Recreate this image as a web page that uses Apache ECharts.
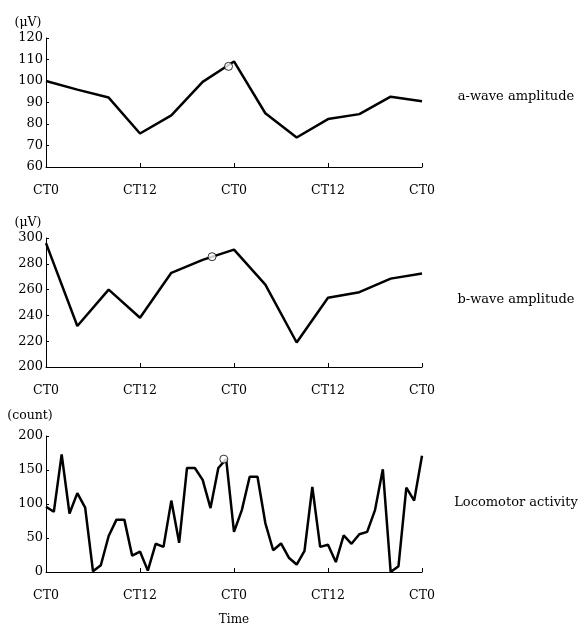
<!DOCTYPE html>
<html>
<head>
<meta charset="utf-8">
<script src="https://cdn.jsdelivr.net/npm/echarts@6/dist/echarts.min.js"></script>
<style>
html,body{margin:0;padding:0;background:#fff;}
#chart{width:580px;height:627px;}
</style>
</head>
<body>
<div id="chart"></div>
<script>
// ---- data ----
var hours4 = [0, 4, 8, 12, 16, 20, 24, 28, 32, 36, 40, 44, 48];
var aWave = [100, 96, 92.3, 75.6, 84, 99.6, 109.1, 85, 73.7, 82.3, 84.6, 92.7, 90.6];
var bWave = [296, 231.8, 260, 238.2, 273, 283, 291, 263.8, 219, 253.7, 258, 268.5, 272.5];
var hours1 = [0,1,2,3,4,5,6,7,8,9,10,11,12,13,14,15,16,17,18,19,20,21,22,23,24,25,26,27,28,29,30,31,32,33,34,35,36,37,38,39,40,41,42,43,44,45,46,47,48];
var loco = [96, 88.5, 173, 86, 116, 94.6, 1, 10, 53, 77, 77, 24, 30, 2, 41.5, 37, 105, 43, 153, 153, 135.5, 94, 153, 166, 59, 91, 140, 140, 72, 32, 42, 21, 11, 31, 125, 37, 40, 14.6, 54, 41.5, 55.5, 59, 91, 151, 0, 8.5, 124, 105, 171];
var aMarker = [[23.3, 106.8]];
var bMarker = [[21.2, 285.5]];
var locoMarker = [[22.7, 166]];
var panelLabels = ['a-wave amplitude', 'b-wave amplitude', 'Locomotor activity'];
var unitLabels = ['(\u03bcV)', '(\u03bcV)', '(count)'];
var xLabelName = 'Time';

var FONT = 'DejaVu Serif';
var chart = echarts.init(document.getElementById('chart'), null, {renderer: 'canvas'});

var grids = [
  {left: 46, width: 376, top: 38, height: 129},
  {left: 46, width: 376, top: 238, height: 129},
  {left: 46, width: 376, top: 436, height: 142}
];
var yRanges = [[60, 120, 10], [200, 300, 20], [0, 200, 50]];

function xAxis(i) {
  return {
    type: 'value', gridIndex: i, min: 0, max: 48, interval: 12,
    axisLine: {show: true, onZero: false, lineStyle: {color: '#000', width: 1}},
    axisTick: {show: true, inside: true, length: 4, lineStyle: {color: '#000'}},
    splitLine: {show: false},
    axisLabel: {
      color: '#000', fontFamily: FONT, fontSize: 12.5, margin: 17,
      formatter: function (v) { return (v % 24 === 0) ? 'CT0' : 'CT12'; }
    },
    name: i === 2 ? xLabelName : '',
    nameLocation: 'middle', nameGap: 42,
    nameTextStyle: {color: '#000', fontFamily: FONT, fontSize: 12}
  };
}
function yAxis(i) {
  return {
    type: 'value', gridIndex: i, min: yRanges[i][0], max: yRanges[i][1], interval: yRanges[i][2],
    axisLine: {show: true, lineStyle: {color: '#000', width: 1}},
    axisTick: {show: true, inside: true, length: 3, lineStyle: {color: '#000'}},
    splitLine: {show: false},
    axisLabel: {color: '#000', fontFamily: FONT, fontSize: 13, margin: 3}
  };
}
function lineSeries(i, xs, ys) {
  return {
    type: 'line', xAxisIndex: i, yAxisIndex: i,
    data: xs.map(function (x, k) { return [x, ys[k]]; }),
    showSymbol: false, symbol: 'none',
    lineStyle: {color: '#000', width: 2.5}, z: 2
  };
}
function markerSeries(i, d) {
  return {
    type: 'scatter', xAxisIndex: i, yAxisIndex: i, data: d,
    symbol: 'circle', symbolSize: 8,
    itemStyle: {color: '#fff', borderColor: '#000', borderWidth: 1}, z: 5
  };
}

var unitPos = [[28, 23], [28, 223], [30, 416]];
var labelPos = [[516, 97], [516, 300], [516, 503]];
var graphics = [];
for (var g = 0; g < 3; g++) {
  graphics.push({type: 'text', x: unitPos[g][0], y: unitPos[g][1],
    style: {text: unitLabels[g], fill: '#000', font: '12.5px "' + FONT + '"', textAlign: 'center', textVerticalAlign: 'middle'}});
  graphics.push({type: 'text', x: labelPos[g][0], y: labelPos[g][1],
    style: {text: panelLabels[g], fill: '#000', font: '13px "' + FONT + '"', textAlign: 'center', textVerticalAlign: 'middle'}});
}

chart.setOption({
  animation: false,
  backgroundColor: '#fff',
  grid: grids,
  xAxis: [xAxis(0), xAxis(1), xAxis(2)],
  yAxis: [yAxis(0), yAxis(1), yAxis(2)],
  series: [
    lineSeries(0, hours4, aWave),
    lineSeries(1, hours4, bWave),
    lineSeries(2, hours1, loco),
    markerSeries(0, aMarker),
    markerSeries(1, bMarker),
    markerSeries(2, locoMarker)
  ],
  graphic: graphics
});
</script>
</body>
</html>
